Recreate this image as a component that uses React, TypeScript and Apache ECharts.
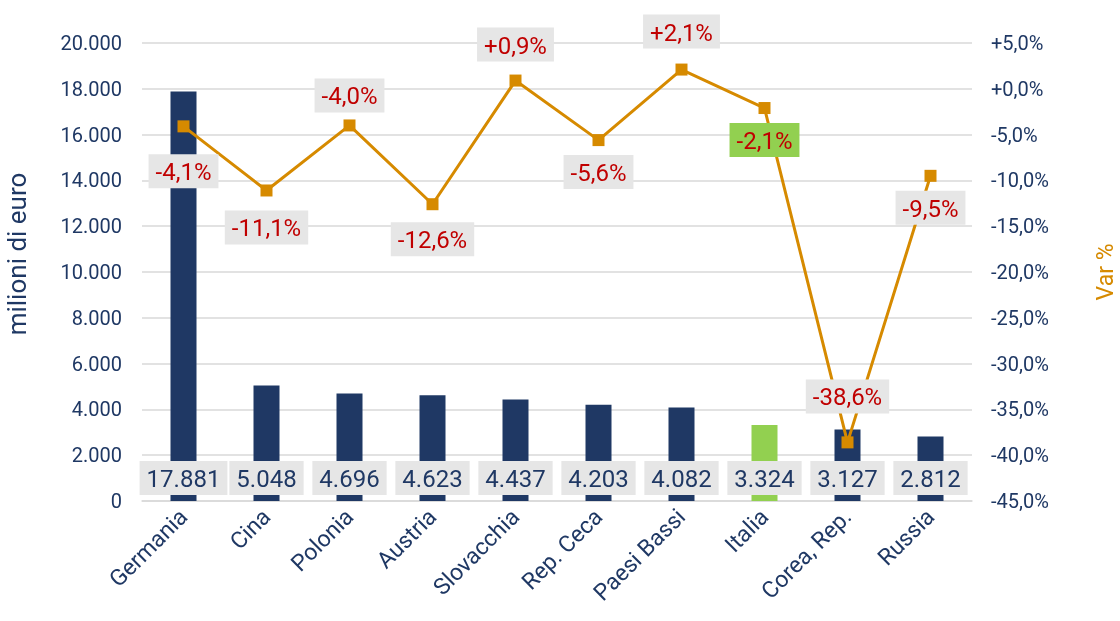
import React, { useEffect, useRef } from "react";
import * as echarts from "echarts";

const categories = ["Germania", "Cina", "Polonia", "Austria", "Slovacchia", "Rep. Ceca", "Paesi Bassi", "Italia", "Corea, Rep.", "Russia"];
const values = [17881, 5048, 4696, 4623, 4437, 4203, 4082, 3324, 3127, 2812];
const variations = [-4.1, -11.1, -4.0, -12.6, 0.9, -5.6, 2.1, -2.1, -38.6, -9.5];
const labelPositions = ["bottom", "bottom", "top", "bottom", "top", "bottom", "top", "bottom", "top", "bottom"];
const labelDistances = [22, 14, 7, 12, 13, 9, 15, 9, 23, 9];
const highlight = "Italia";

const NAVY = "#1f3864";
const GREEN = "#92d050";
const ORANGE = "#d68a00";
const RED = "#c00000";
const LABEL_BG = "#e6e6e6";

const itNum = (v: number) => {
  const s = Math.round(v).toString();
  return s.replace(/\B(?=(\d{3})+(?!\d))/g, ".");
};
const pct = (v: number) => (v >= 0 ? "+" : "") + v.toFixed(1).replace(".", ",") + "%";

export default function App() {
  const ref = useRef<HTMLDivElement>(null);
  useEffect(() => {
    if (!ref.current) return;
    const chart = echarts.init(ref.current, null, { renderer: "svg" });
    const font = "Roboto";
    chart.setOption({
      animation: false,
      textStyle: { fontFamily: font },
      grid: { left: 142, right: 148, top: 43, bottom: 120, containLabel: false, outerBoundsMode: "none" },
      xAxis: {
        type: "category",
        data: categories,
        axisTick: { show: false },
        axisLine: { lineStyle: { color: "#d9d9d9", width: 1.5 } },
        axisLabel: { rotate: 45, color: NAVY, fontSize: 23, fontFamily: font, margin: 12, interval: 0 },
      },
      yAxis: [
        {
          type: "value",
          min: 0,
          max: 20000,
          interval: 2000,
          name: "milioni di euro",
          nameLocation: "middle",
          nameGap: 112,
          nameTextStyle: { color: NAVY, fontSize: 26, fontFamily: font, padding: [0, 0, 0, 36] },
          axisLine: { show: false },
          axisTick: { show: false },
          axisLabel: { color: NAVY, fontSize: 20, fontFamily: font, margin: 20, formatter: (v: number) => itNum(v) },
          splitLine: { lineStyle: { color: "#d9d9d9", width: 1.5 } },
        },
        {
          type: "value",
          min: -45,
          max: 5,
          interval: 5,
          position: "right",
          name: "Var %",
          nameLocation: "middle",
          nameGap: 122,
          nameTextStyle: { color: ORANGE, fontSize: 23, fontFamily: font },
          axisLine: { show: false },
          axisTick: { show: false },
          axisLabel: { color: NAVY, fontSize: 20, fontFamily: font, margin: 19, formatter: (v: number) => pct(v) },
          splitLine: { show: false },
        },
      ],
      series: [
        {
          type: "bar",
          barWidth: 26,
          data: values.map((v, i) => ({
            value: v,
            itemStyle: { color: categories[i] === highlight ? GREEN : NAVY },
          })),
          label: {
            show: true,
            position: "insideBottom",
            distance: 6,
            color: NAVY,
            fontSize: 24,
            fontFamily: font,
            backgroundColor: LABEL_BG,
            padding: [6, 7, 4, 7],
            formatter: (p: any) => itNum(p.value),
          },
        },
        {
          type: "line",
          yAxisIndex: 1,
          symbol: "rect",
          symbolSize: 12,
          lineStyle: { color: ORANGE, width: 3 },
          itemStyle: { color: ORANGE },
          data: variations.map((v, i) => ({
            value: v,
            label: {
              show: true,
              position: labelPositions[i],
              distance: labelDistances[i],
              backgroundColor: categories[i] === highlight ? GREEN : LABEL_BG,
            },
          })),
          label: {
            show: true,
            color: RED,
            fontSize: 24,
            fontFamily: font,
            padding: [6, 7, 4, 7],
            formatter: (p: any) => pct(p.value),
          },
          z: 5,
        },
      ],
    });
    return () => chart.dispose();
  }, []);
  return <div ref={ref} style={{ position: "fixed", left: 0, top: 0, width: 1120, height: 621 }} />;
}
